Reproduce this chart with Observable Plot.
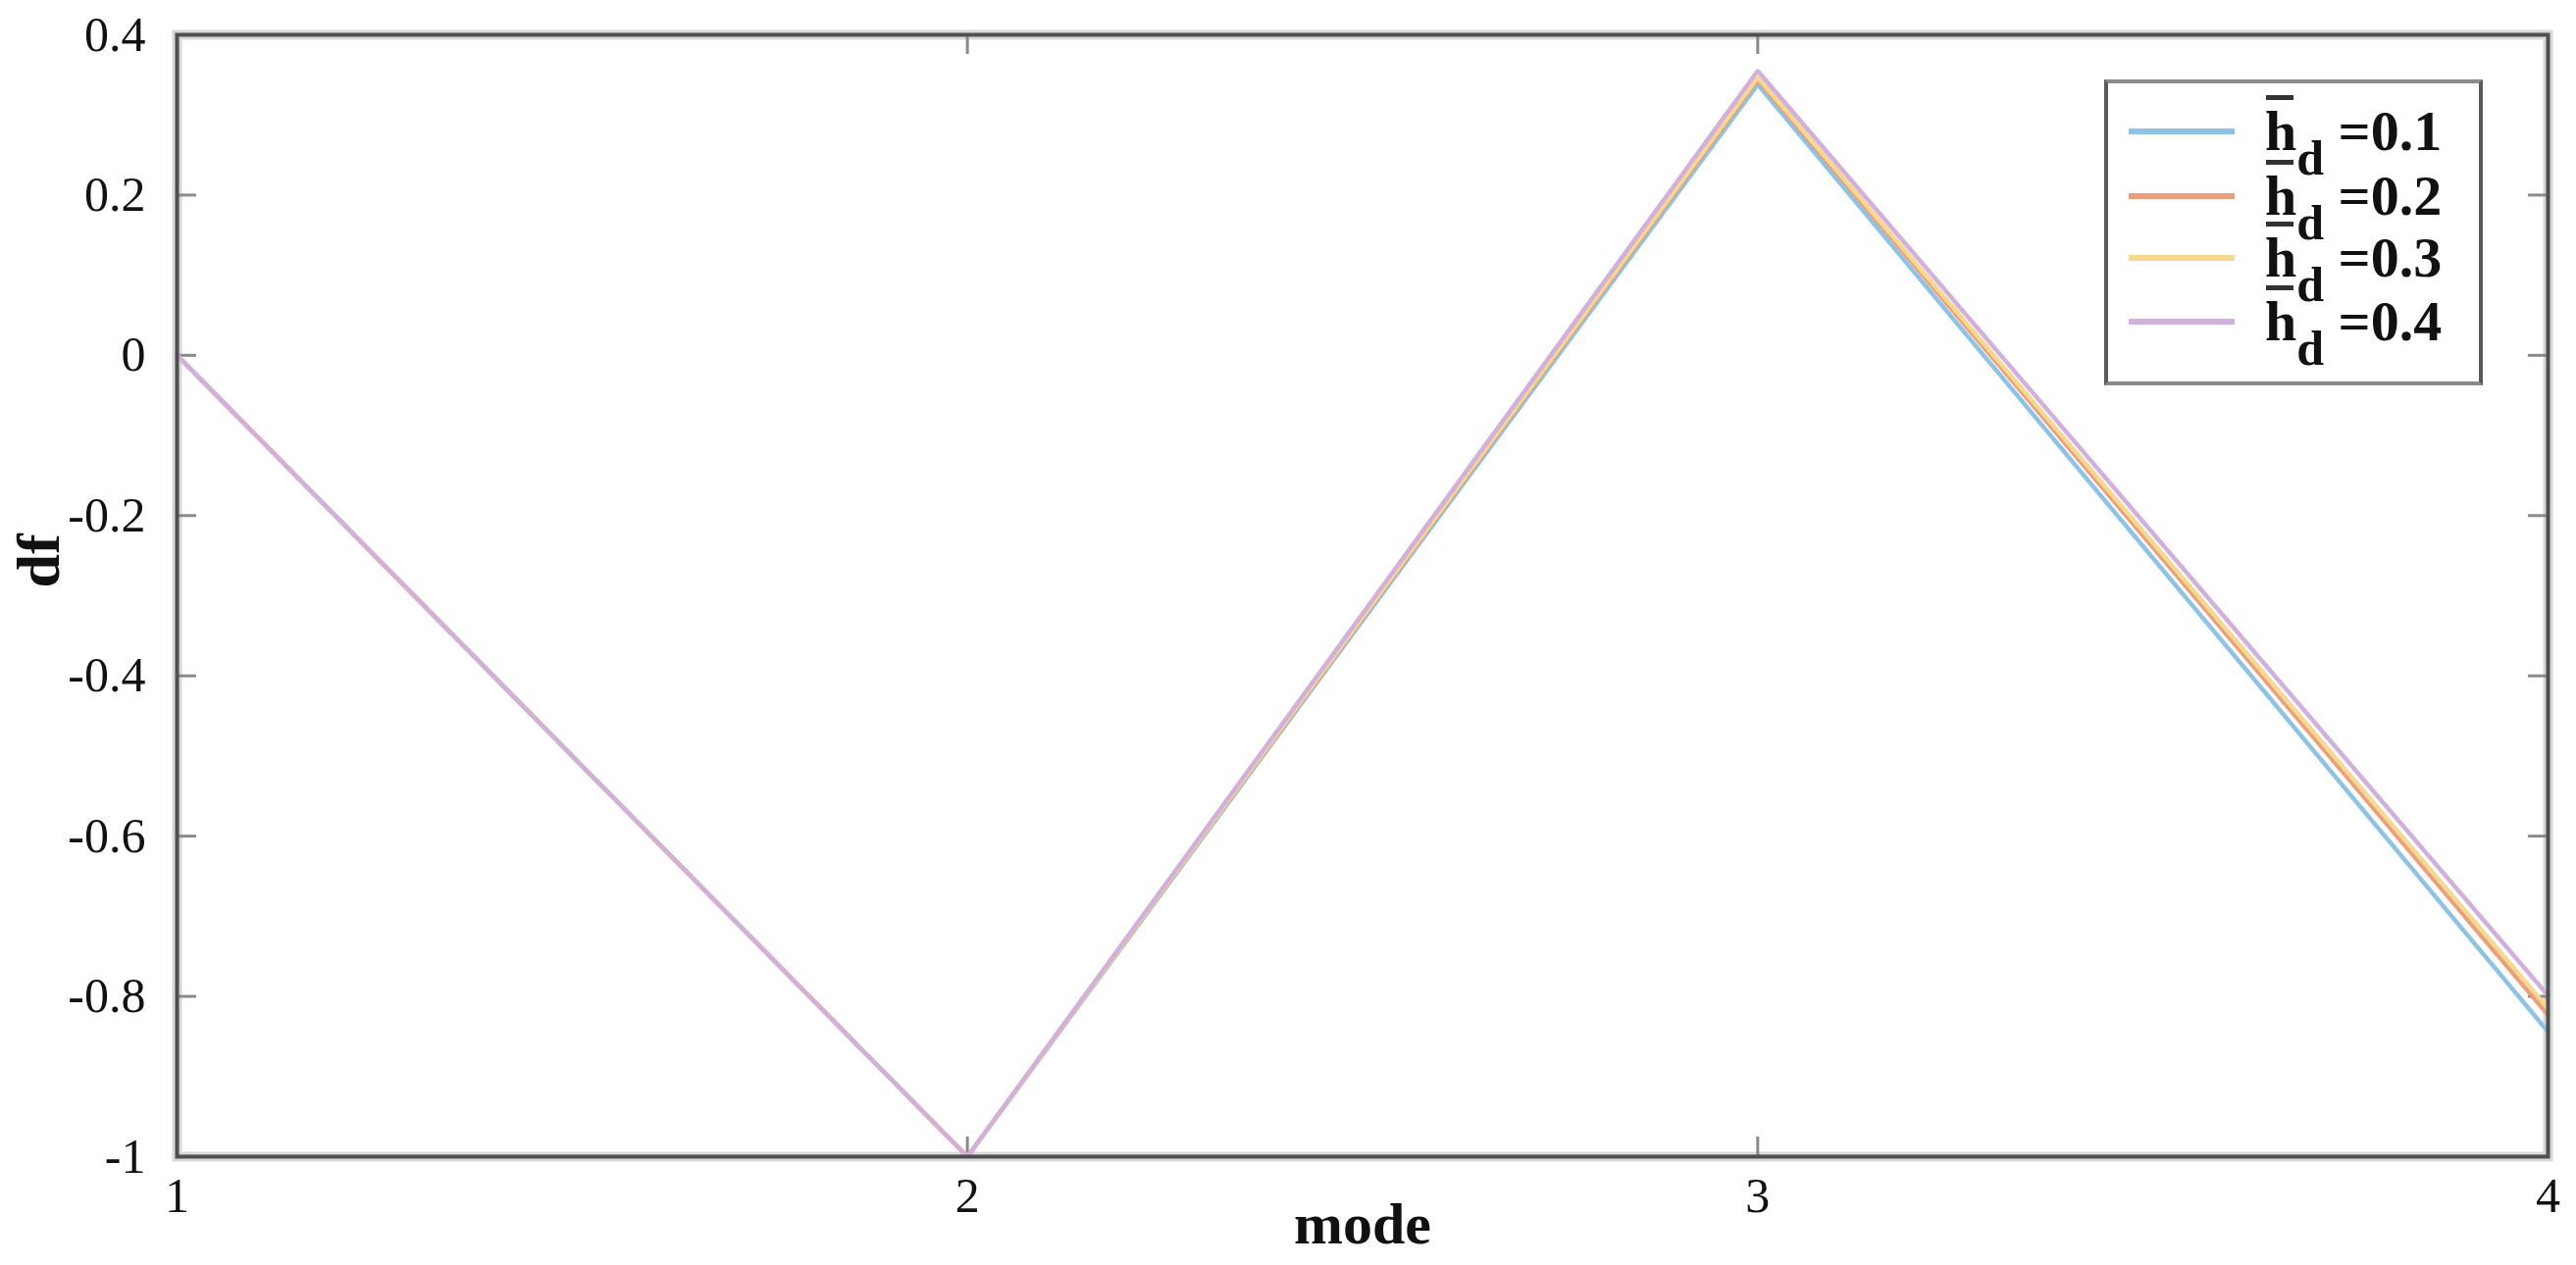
<!DOCTYPE html>
<html>
<head>
<meta charset="utf-8">
<script src="https://cdn.jsdelivr.net/npm/d3@7"></script>
<script src="https://cdn.jsdelivr.net/npm/@observablehq/plot@0.6"></script>
<style>
  body { margin: 0; background: #fff; }
  #wrap { position: relative; width: 2626px; height: 1290px; }
  #legend {
    position: absolute; left: 2145px; top: 81px; width: 386px; height: 312px;
    box-sizing: border-box; border: 4px solid #5a5a5a; border-top-color: #8a8a8a; border-bottom-color: #8a8a8a;
    background: #fff; font-family: "Liberation Serif", serif; font-weight: bold; color: #111;
  }
  .row { position: absolute; left: 0; height: 0; }
  .sw { position: absolute; left: 21px; width: 108px; height: 6px; top: -3px; }
  .lab { position: absolute; left: 160px; top: -29px; font-size: 58px; line-height: 58px; white-space: nowrap; }
  .h { position: relative; display: inline-block; }
  .h::before { content: ""; position: absolute; left: 1px; right: 3px; top: -8px; border-top: 5px solid #333; }
  .sub { position: relative; top: 25px; font-size: 50px; }
</style>
</head>
<body>
<div id="wrap"></div>
<script>
// ---- data ----
const modes = [1, 2, 3, 4];
const hd01 = [0, -1, 0.338, -0.844];
const hd02 = [0, -1, 0.344, -0.823];
const hd03 = [0, -1, 0.347, -0.815];
const hd04 = [0, -1, 0.355, -0.799];
const seriesNames = ["0.1", "0.2", "0.3", "0.4"];
const seriesColors = ["#8ec3e6", "#eb9f7f", "#f6d98f", "#d2b0db"];
const xTicks = [1, 2, 3, 4];
const yTicks = [-1, -0.8, -0.6, -0.4, -0.2, 0, 0.2, 0.4];

const rows = [];
[hd01, hd02, hd03, hd04].forEach((s, i) =>
  s.forEach((v, j) => rows.push({mode: modes[j], df: v, hd: seriesNames[i]})));

const W = 2626, H = 1290, mL = 180, mR = 29, mT = 35, mB = 111;
const plotW = W - mL - mR, plotH = H - mT - mB;
const fmt = d => String(d);
const tickColor = "#8a8a8a";

const chart = Plot.plot({
  width: W, height: H,
  marginLeft: mL, marginRight: mR, marginTop: mT, marginBottom: mB,
  style: {fontFamily: '"Liberation Serif", serif', fontSize: "50px", color: "#111", background: "#fff", overflow: "visible"},
  x: {domain: [1, 4], axis: null},
  y: {domain: [-1, 0.4], axis: null},
  color: {domain: seriesNames, range: seriesColors},
  marks: [
    Plot.frame({stroke: "#d8d8d8", strokeWidth: 10}),
    Plot.tickY(yTicks, {y: d => d, stroke: tickColor, strokeWidth: 3, insetRight: plotW - 20}),
    Plot.tickY(yTicks, {y: d => d, stroke: tickColor, strokeWidth: 3, insetLeft: plotW - 20}),
    Plot.tickX(xTicks, {x: d => d, stroke: tickColor, strokeWidth: 3, insetTop: plotH - 20}),
    Plot.tickX(xTicks, {x: d => d, stroke: tickColor, strokeWidth: 3, insetBottom: plotH - 20}),
    Plot.line(rows, {x: "mode", y: "df", z: "hd", stroke: "hd", strokeWidth: 4.5, strokeLinejoin: "miter"}),
    Plot.frame({stroke: "#4f4f4f", strokeWidth: 4}),
    Plot.axisY(yTicks, {tickSize: 0, tickPadding: 32, tickFormat: fmt, fontSize: 50, label: null}),
    Plot.axisX(xTicks, {tickSize: 0, tickPadding: 21, tickFormat: fmt, fontSize: 50, label: null}),
    Plot.text(["df"], {frameAnchor: "left", dx: -140, dy: -8, rotate: -90, fontWeight: "bold", fontSize: 62}),
    Plot.text(["mode"], {frameAnchor: "bottom", dy: 88, fontWeight: "bold", fontSize: 60})
  ]
});

const wrap = document.getElementById("wrap");
wrap.appendChild(chart);

// ---- legend ----
const legend = document.createElement("div");
legend.id = "legend";
const rowTops = [49, 115, 178, 243];
seriesNames.forEach((name, i) => {
  const r = document.createElement("div");
  r.className = "row";
  r.style.top = rowTops[i] + "px";
  r.innerHTML = `<span class="sw" style="background:${seriesColors[i]}"></span>` +
    `<span class="lab"><span class="h">h</span><span class="sub">d</span> =${name}</span>`;
  legend.appendChild(r);
});
wrap.appendChild(legend);
</script>
</body>
</html>
